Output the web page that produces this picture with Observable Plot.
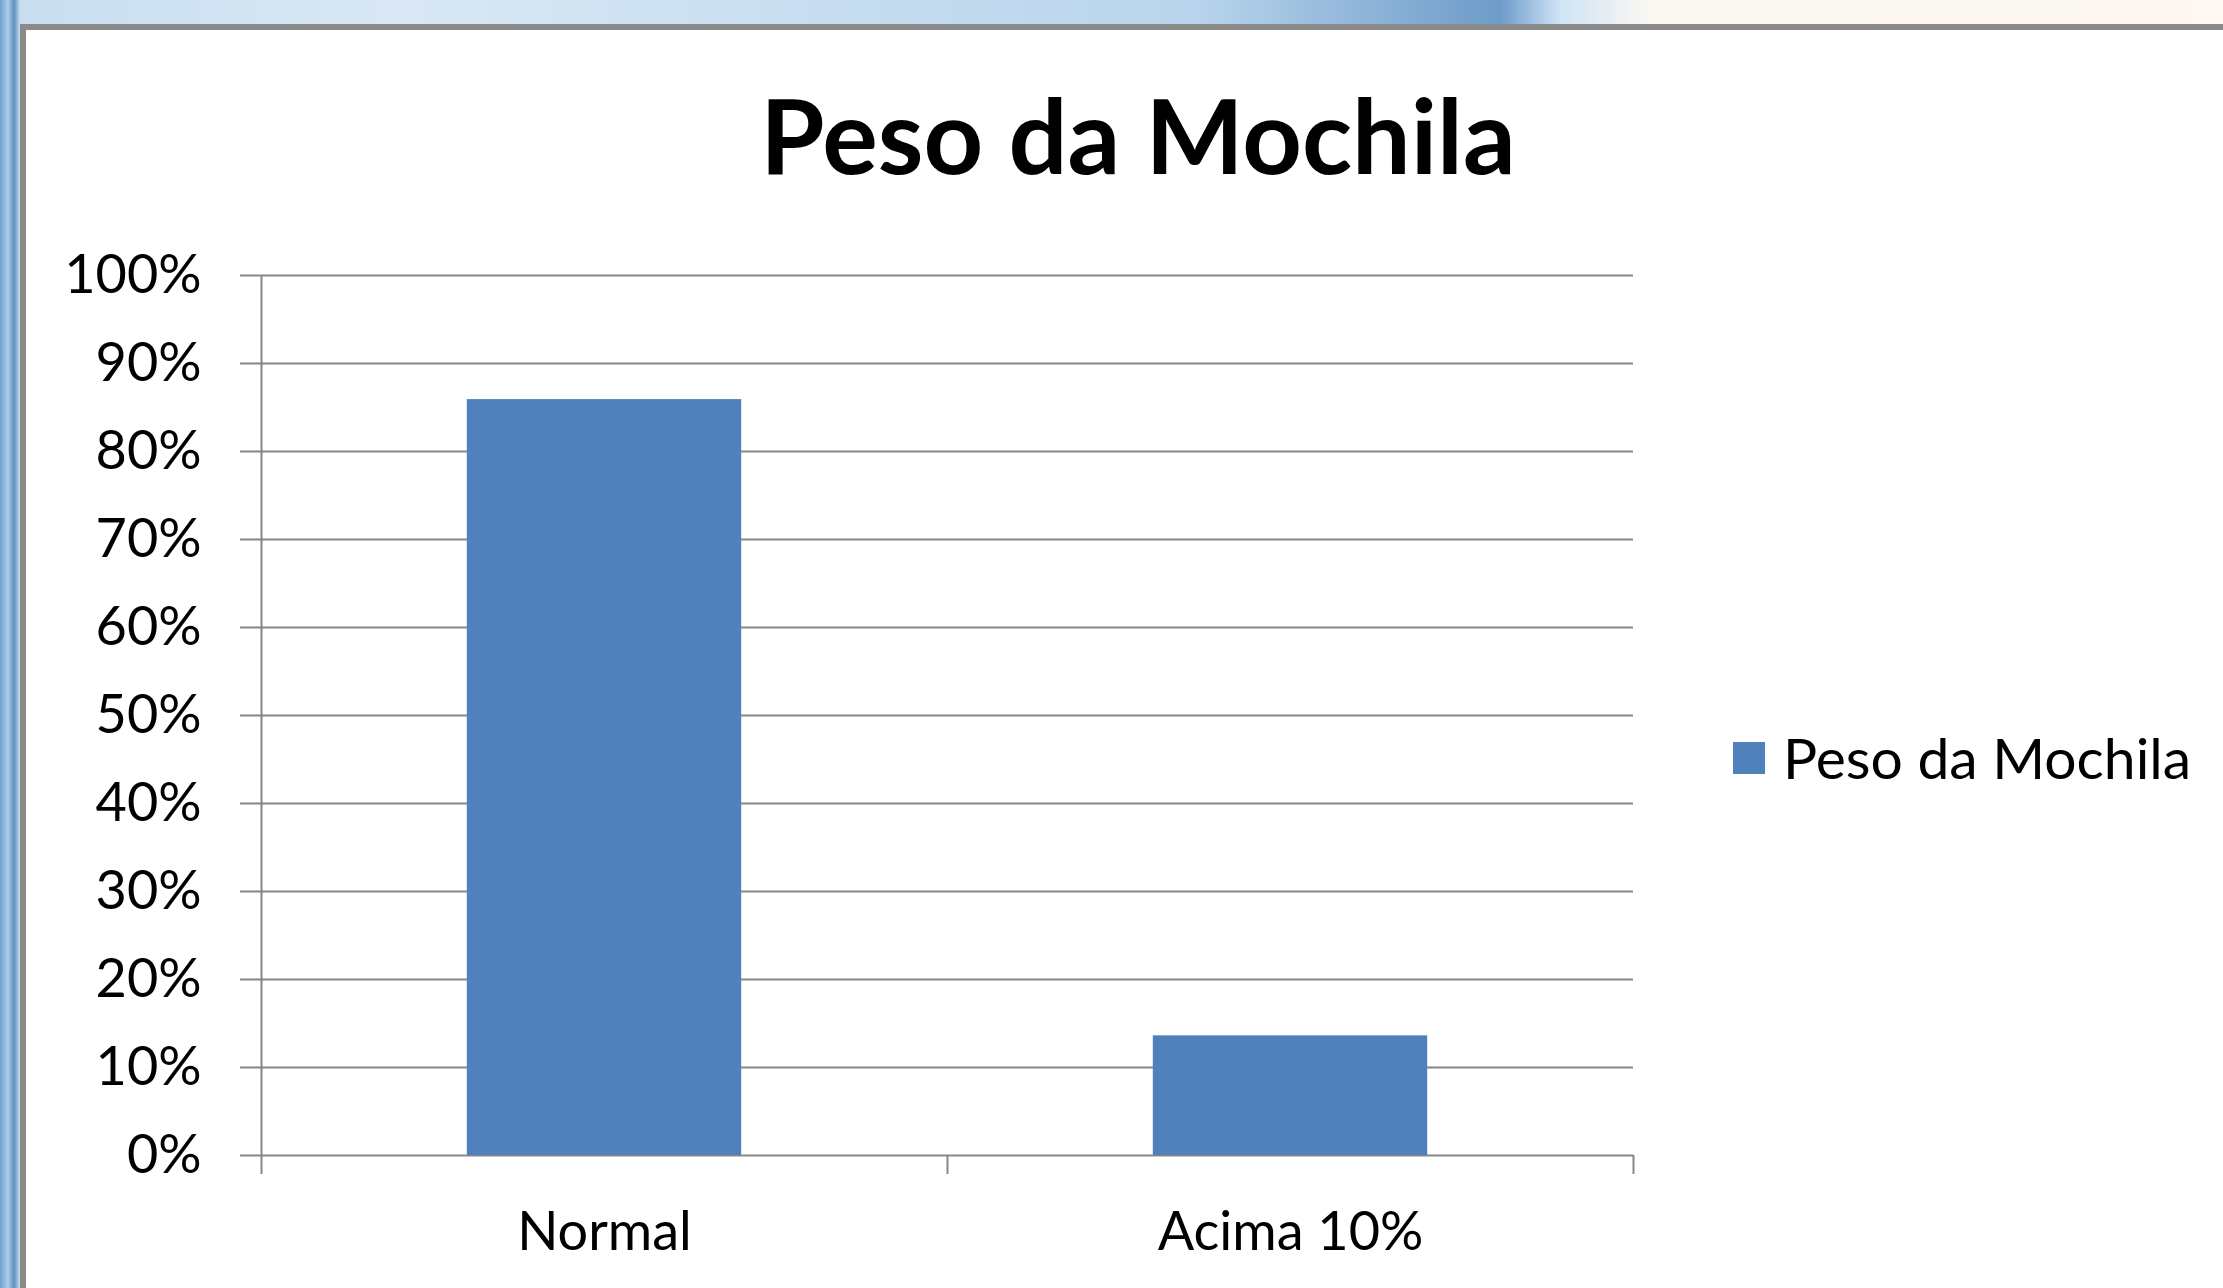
<!DOCTYPE html>
<html>
<head>
<meta charset="utf-8">
<script src="https://cdn.jsdelivr.net/npm/d3@7"></script>
<script src="https://cdn.jsdelivr.net/npm/@observablehq/plot@0.6"></script>
<style>
  html, body { margin: 0; padding: 0; width: 2223px; height: 1288px; overflow: hidden; }
  body {
    background: linear-gradient(90deg, #6f9fcf 0px, #a9cdec 8px, #5f8fbf 14px, #c8def0 20px, #d9e8f4 400px, #b8d4ec 1200px, #6d9bc9 1500px, #cfe4f5 1560px, #fbf7f2 1650px, #fdf8f3 2223px);
    font-family: Lato, "Open Sans", sans-serif;
  }
  #frame {
    position: absolute; left: 20px; top: 24px; width: 2400px; height: 1400px;
    background: #ffffff; border-left: 6px solid #8a8a8a; border-top: 6px solid #8a8a8a;
  }
  #title {
    position: absolute; left: 0; width: 2276px; top: 82px; text-align: center;
    font-family: Lato, sans-serif; font-weight: 700; font-size: 104px; line-height: 1; color: #000;
  }
  #chart { position: absolute; left: 0; top: 200px; }
  #legend {
    position: absolute; left: 1733px; top: 729px; display: flex; align-items: center;
    font-family: Lato, sans-serif; font-size: 57px; line-height: 1; color: #000;
  }
  #legend .sw { width: 32px; height: 32px; background: #4f81bd; margin-right: 18px; }
</style>
</head>
<body>
<div id="frame"></div>
<div id="title"></div>
<div id="chart"></div>
<div id="legend"><div class="sw"></div><span id="legend-label"></span></div>
<script>
const title = "Peso da Mochila";
const seriesName = "Peso da Mochila";
const categories = ["Normal", "Acima 10%"];
const values = [0.859, 0.136];
const yTicks = [0, 0.1, 0.2, 0.3, 0.4, 0.5, 0.6, 0.7, 0.8, 0.9, 1.0];

document.getElementById("title").textContent = title;
document.getElementById("legend-label").textContent = seriesName;

const gap = 0.3; // Excel gap width 150% -> 30% each side of the category
const data = categories.map((c, i) => ({category: c, value: values[i], i}));
const bounds = d3.range(categories.length + 1);
const grid = "#868686";

const chart = Plot.plot({
  width: 1700,
  height: 1085,
  marginLeft: 261,
  marginRight: 67,
  marginTop: 75,
  marginBottom: 130,
  style: {fontFamily: "Lato, sans-serif", fontSize: "54px", color: "#000", background: "transparent", overflow: "visible"},
  x: {domain: [0, categories.length], axis: null},
  y: {domain: [0, 1], axis: null},
  marks: [
    Plot.ruleY(yTicks, {y: d => d, stroke: grid, strokeWidth: 2}),
    Plot.ruleX([0], {y1: 0, y2: 1, stroke: grid, strokeWidth: 2}),
    Plot.rectY(data, {x1: d => d.i + gap, x2: d => d.i + 1 - gap, y: "value", fill: "#4f81bd"}),
    Plot.axisY({ticks: yTicks, tickFormat: d3.format(".0%"), tickSize: 21, tickPadding: 39, stroke: grid, strokeWidth: 2, fill: "#000", label: null}),
    Plot.axisX({ticks: bounds, tickFormat: () => "", tickSize: 19, stroke: grid, strokeWidth: 2, label: null}),
    Plot.axisX({ticks: categories.map((c, i) => i + 0.5), tickFormat: d => categories[Math.floor(d)], tickSize: 0, tickPadding: 56, fill: "#000", label: null})
  ]
});
document.getElementById("chart").appendChild(chart);
</script>
</body>
</html>
